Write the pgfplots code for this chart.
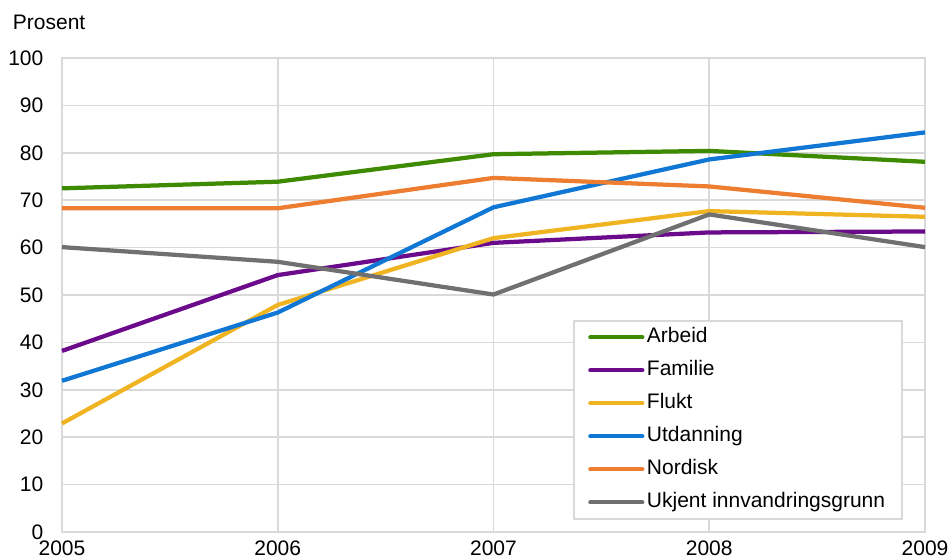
\documentclass[border=0pt]{standalone}
\usepackage{fontspec}
\setmainfont{Liberation Sans}
\usepackage{pgfplots}
\pgfplotsset{compat=1.18}
\definecolor{gridgray}{RGB}{217,217,217}
\definecolor{cArbeid}{RGB}{62,138,0}
\definecolor{cFamilie}{RGB}{108,10,140}
\definecolor{cFlukt}{RGB}{240,180,34}
\definecolor{cUtd}{RGB}{16,120,212}
\definecolor{cNord}{RGB}{237,125,49}
\definecolor{cUkj}{RGB}{112,112,112}
\begin{document}
\begin{tikzpicture}
\begin{axis}[
  width=863bp, height=474bp, scale only axis,
  xmin=2005, xmax=2009, ymin=0, ymax=100,
  enlargelimits=false, clip=false,
  xtick={2005,2006,2007,2008,2009},
  ytick={0,10,...,100},
  major tick length=0pt,
  grid=major,
  grid style={draw=gridgray, line width=1.75bp},
  axis line style={draw=gridgray, line width=1.75bp},
  /pgf/number format/1000 sep={},
  /pgf/number format/assume math mode=true,
  tick label style={font=\fontsize{21bp}{25bp}\selectfont, text=black},
  yticklabel style={inner sep=0pt, xshift=-18.5bp},
  xticklabel style={inner sep=0pt, yshift=-8.5bp},
  legend style={
    at={(rel axis cs:0.9745,0.4473)}, anchor=north east,
    draw=gridgray, line width=1.75bp,
    font=\fontsize{21bp}{25bp}\selectfont,
    inner xsep=14.5bp, inner ysep=6.75bp,
    row sep=13.5bp,
    nodes={inner xsep=2.5bp, inner ysep=0bp, text height=15bp, text depth=4.5bp},
    cells={anchor=west},
  },
  legend image code/.code={\draw[line width=4.25bp, line cap=round] (0bp,0bp) -- (52bp,0bp);},
  every axis plot/.append style={line width=4.25bp, line join=round, mark=none},
]
\addplot[cArbeid] coordinates {(2005,72.5) (2006,73.9) (2007,79.7) (2008,80.4) (2009,78.1)};
\addlegendentry{Arbeid}
\addplot[cFamilie] coordinates {(2005,38.2) (2006,54.2) (2007,61.0) (2008,63.2) (2009,63.4)};
\addlegendentry{Familie}
\addplot[cFlukt] coordinates {(2005,22.9) (2006,47.9) (2007,62.0) (2008,67.7) (2009,66.5)};
\addlegendentry{Flukt}
\addplot[cUtd] coordinates {(2005,31.9) (2006,46.3) (2007,68.5) (2008,78.6) (2009,84.3)};
\addlegendentry{Utdanning}
\addplot[cNord] coordinates {(2005,68.3) (2006,68.3) (2007,74.7) (2008,72.9) (2009,68.4)};
\addlegendentry{Nordisk}
\addplot[cUkj] coordinates {(2005,60.1) (2006,57.0) (2007,50.1) (2008,67.0) (2009,60.1)};
\addlegendentry{Ukjent innvandringsgrunn}
\node[anchor=base west, inner sep=0pt, font=\fontsize{21bp}{25bp}\selectfont] at (rel axis cs:-0.0571,1.0591) {Prosent};
\path (rel axis cs:-0.07184,1.12236) rectangle (rel axis cs:1.02781,-0.05485);
\end{axis}
\end{tikzpicture}
\end{document}
